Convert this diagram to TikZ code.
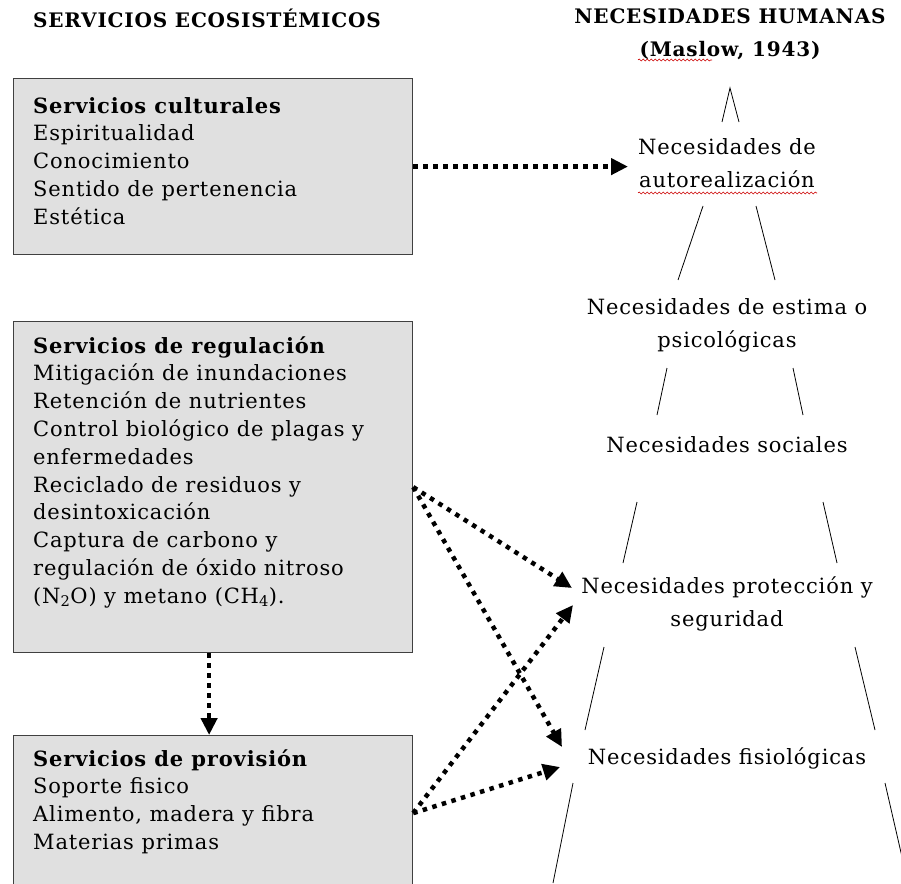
\documentclass[tikz,border=0pt]{standalone}
\usepackage{fontspec}
\setmainfont{DejaVu Serif}[LetterSpace=4]
\usetikzlibrary{arrows.meta,decorations.pathmorphing}

\begin{document}
\begin{tikzpicture}[x=1pt, y=-1pt,
	box/.style={draw=black!75, line width=1.2pt, fill=black!12, anchor=north west, inner sep=0pt},
	boxtext/.style={anchor=north west, align=left, inner sep=0pt, font=\fontsize{21}{27.8}\selectfont},
	need/.style={align=center, inner sep=3pt, font=\fontsize{21}{33}\selectfont},
	title/.style={inner sep=0pt, font=\fontsize{20}{33}\selectfont\bfseries},
	flow/.style={line width=4.5pt, dash pattern=on 4.5pt off 5.5pt, -{Triangle[length=17pt,width=16pt]}},
	side/.style={line width=0.8pt},
	spell/.style={red!80!black, line width=0.6pt, decorate, decoration={snake, segment length=4pt, amplitude=1pt}}]

\clip (0,0) rectangle (901,883);
\fill[white] (0,0) rectangle (901,883);

% titles
\node[title, anchor=west] (ecoTitle) at (33,18) {SERVICIOS ECOSIST\'EMICOS};
\node[title, align=center] (humTitle) at (730,34) {NECESIDADES HUMANAS\\(Maslow, 1943)};
\draw[spell] (638,60) -- (712,60);

% ecosystem services
\node[box, minimum width=399, minimum height=176] (cult) at (13,78) {};
\node[boxtext] (cultT) at (33,97) {\textbf{Servicios culturales}\\Espiritualidad\\Conocimiento\\Sentido de pertenencia\\Est\'etica};

\node[box, minimum width=399, minimum height=331] (reg) at (13,321) {};
\node[boxtext] (regT) at (33,336) {\textbf{Servicios de regulaci\'on}\\Mitigaci\'on de inundaciones\\Retenci\'on de nutrientes\\Control biol\'ogico de plagas y\\enfermedades\\Reciclado de residuos y\\desintoxicaci\'on\\Captura de carbono y\\regulaci\'on de \'oxido nitroso\\(N\textsubscript{2}O) y metano (CH\textsubscript{4}).};

\node[box, minimum width=399, minimum height=155] (prov) at (13,735) {};
\node[boxtext] (provT) at (33,749) {\textbf{Servicios de provisi\'on}\\Soporte fisico\\Alimento, madera y fibra\\Materias primas};

% Maslow levels
\node[need] (auto) at (727,163) {Necesidades de\\autorealizaci\'on};
\node[need] (estima) at (727,325) {Necesidades de estima o\\psicol\'ogicas};
\node[need] (social) at (727,445) {Necesidades sociales};
\node[need] (segur) at (727,604) {Necesidades protecci\'on y\\seguridad};
\node[need] (fisio) at (727,758) {Necesidades fisiol\'ogicas};
\draw[spell] (638,193) -- (817,193);

% pyramid sides
\draw[side] (722,122) -- (730,88) -- (739,122);
\draw[side] (703,206) -- (678,280);
\draw[side] (756,206) -- (775,280);
\draw[side] (667,368) -- (657,415);
\draw[side] (793,368) -- (803,415);
\draw[side] (637,502) -- (623,563);
\draw[side] (823,502) -- (837,563);
\draw[side] (604,647) -- (585,730);
\draw[side] (855,647) -- (875,730);
\draw[side] (573,783) -- (553,883);
\draw[side] (885,783) -- (908,883);

% links
\draw[flow] (cult.east) -- ([xshift=-99]cult.east -| auto.center);
\draw[flow] (reg.east) -- ([shift={(-155,-16)}]segur.center);
\draw[flow] (reg.east) -- ([shift={(-165,-11)}]fisio.center);
\draw[flow] (prov.east) -- ([shift={(-154,1)}]segur.center);
\draw[flow] (prov.east) -- ([shift={(-167,9)}]fisio.center);
\draw[flow] ([xshift=-4]reg.south) -- ([xshift=-4]prov.north);

\end{tikzpicture}
\end{document}
